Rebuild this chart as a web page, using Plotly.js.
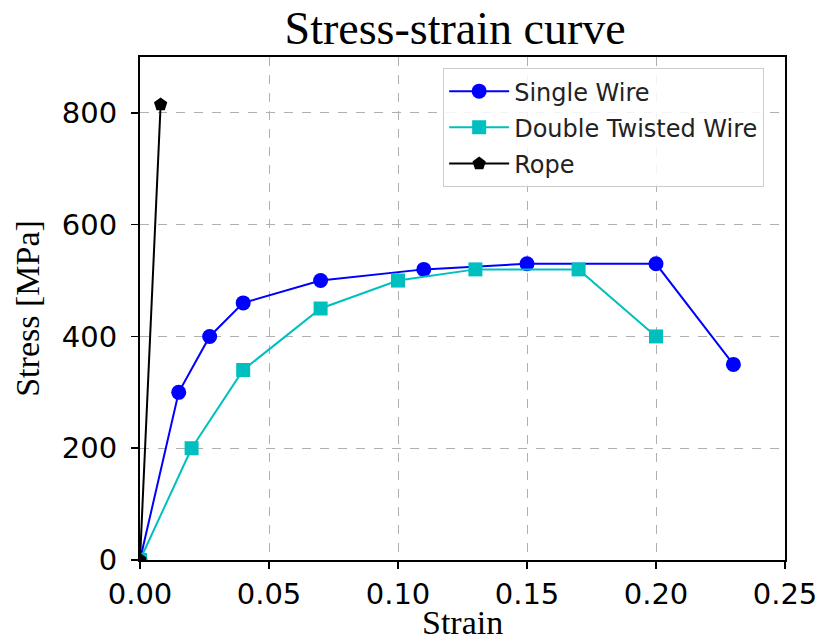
<!DOCTYPE html>
<html>
<head>
<meta charset="utf-8">
<script src="https://cdn.plot.ly/plotly-3.0.1.min.js"></script>
<style>html,body{margin:0;padding:0;background:#fff;}#chart{width:823px;height:643px;}</style>
</head>
<body>
<div id="chart"></div>
<script>
const singleStrain = [0, 0.015, 0.027, 0.04, 0.07, 0.11, 0.15, 0.20, 0.23];
const singleStress = [0, 300, 400, 460, 500, 520, 530, 530, 350];
const doubleStrain = [0, 0.02, 0.04, 0.07, 0.10, 0.13, 0.17, 0.20];
const doubleStress = [0, 200, 340, 450, 500, 520, 520, 400];
const ropeStrain = [0, 0.008];
const ropeStress = [0, 815];
const xTicks = [0, 0.05, 0.10, 0.15, 0.20, 0.25];
const xTickLabels = ['0.00', '0.05', '0.10', '0.15', '0.20', '0.25'];
const yTicks = [0, 200, 400, 600, 800];

const traces = [
  {x: singleStrain, y: singleStress, name: 'Single Wire', mode: 'lines+markers', legendgroup: 'a',
   line: {color: '#0000ff', width: 2}, marker: {symbol: 'circle', size: 15, color: '#0000ff'}},
  {x: doubleStrain, y: doubleStress, name: 'Double Twisted Wire', mode: 'lines+markers', legendgroup: 'b',
   line: {color: '#00bfbf', width: 2}, marker: {symbol: 'square', size: 14, color: '#00bfbf'}},
  {x: ropeStrain, y: ropeStress, name: 'Rope', mode: 'lines+markers', legendgroup: 'c',
   line: {color: '#000000', width: 2}, marker: {symbol: 'pentagon', size: 14, color: '#000000'}}
];

const serif = 'Liberation Serif, DejaVu Serif, serif';
const sans = 'DejaVu Sans, sans-serif';

const layout = {
  width: 823, height: 643,
  margin: {l: 140, r: 38, t: 57, b: 83},
  paper_bgcolor: '#fff', plot_bgcolor: '#fff',
  title: {text: 'Stress-strain curve', font: {family: serif, size: 46, color: '#000'},
          x: 0.553, xanchor: 'center', y: 0.957, yanchor: 'middle'},
  xaxis: {
    range: [0, 0.25], tickvals: xTicks, ticktext: xTickLabels,
    showline: true, mirror: true, linecolor: '#000', linewidth: 2,
    ticks: 'outside', ticklen: 7, tickwidth: 1.5, tickcolor: '#000', ticklabelstandoff: 0,
    showgrid: true, gridcolor: '#b0b0b0', griddash: 'dash', gridwidth: 1, zeroline: false,
    tickfont: {family: sans, size: 29, color: '#000'}
  },
  yaxis: {
    range: [0, 900], tickvals: yTicks,
    showline: true, mirror: true, linecolor: '#000', linewidth: 2,
    ticks: 'outside', ticklen: 7, tickwidth: 1.5, tickcolor: '#000', ticklabelstandoff: 8,
    showgrid: true, gridcolor: '#b0b0b0', griddash: 'dash', gridwidth: 1, zeroline: false,
    tickfont: {family: sans, size: 29, color: '#000'},
    title: {text: 'Stress [MPa]', font: {family: serif, size: 34, color: '#000'}, standoff: 12}
  },
  annotations: [{
    text: 'Strain', xref: 'paper', yref: 'paper', x: 0.5, y: -0.164,
    xanchor: 'center', yanchor: 'bottom', showarrow: false, borderpad: 0,
    font: {family: serif, size: 34, color: '#000'}
  }],
  legend: {
    x: 0.47, y: 0.978, xanchor: 'left', yanchor: 'top',
    bgcolor: 'rgba(255,255,255,0.85)', bordercolor: '#cccccc', borderwidth: 1,
    font: {family: sans, size: 24, color: '#222'},
    traceorder: 'grouped', tracegroupgap: 2, itemwidth: 60
  },
  showlegend: true
};

Plotly.newPlot('chart', traces, layout, {displayModeBar: false, staticPlot: true});
</script>
</body>
</html>
